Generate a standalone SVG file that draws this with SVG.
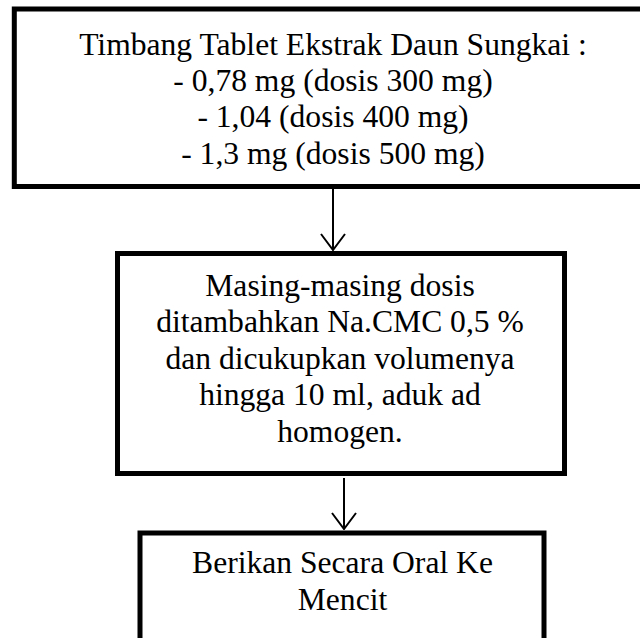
<svg xmlns="http://www.w3.org/2000/svg" width="640" height="638" viewBox="0 0 640 638">
  <style>
    .box { fill: #ffffff; stroke: #000000; stroke-width: 5; }
    .lbl { font-family: "Liberation Serif", "Times New Roman", serif; font-size: 31.6px; fill: #000000; text-anchor: middle; }
    .edge { fill: none; stroke: #000000; stroke-width: 2; }
  </style>
  <defs>
    <!-- open V arrowhead, drawn along +x so orient="auto" points it down the line -->
    <marker id="open-arrow" viewBox="0 0 18 26" refX="17" refY="13" markerWidth="18" markerHeight="26" markerUnits="userSpaceOnUse" orient="auto">
      <path d="M1,1 L17,13 L1,25" fill="none" stroke="#000000" stroke-width="2"/>
    </marker>
  </defs>
  <rect width="640" height="638" fill="#ffffff"/>

  <g id="step-weigh">
    <rect class="box" x="14.3" y="9" width="660" height="177.5"/>
    <text class="lbl" x="333" y="54.5">Timbang Tablet Ekstrak Daun Sungkai :</text>
    <text class="lbl" x="333" y="91">- 0,78 mg (dosis 300 mg)</text>
    <text class="lbl" x="333" y="127">- 1,04 (dosis 400 mg)</text>
    <text class="lbl" x="333" y="163.5">- 1,3 mg (dosis 500 mg)</text>
  </g>

  <g id="step-mix">
    <rect class="box" x="117.5" y="253.5" width="447" height="220"/>
    <text class="lbl" x="340" y="295.5">Masing-masing dosis</text>
    <text class="lbl" x="340" y="332">ditambahkan Na.CMC 0,5 %</text>
    <text class="lbl" x="340" y="368.5">dan dicukupkan volumenya</text>
    <text class="lbl" x="340" y="405">hingga 10 ml, aduk ad</text>
    <text class="lbl" x="340" y="441.5">homogen.</text>
  </g>

  <g id="step-oral">
    <rect class="box" x="140" y="533" width="404" height="140"/>
    <text class="lbl" x="342.5" y="573">Berikan Secara Oral Ke</text>
    <text class="lbl" x="342.5" y="610">Mencit</text>
  </g>

  <g id="connectors">
    <line class="edge" x1="333" y1="189" x2="333" y2="250" marker-end="url(#open-arrow)"/>
    <line class="edge" x1="344" y1="478" x2="344" y2="529" marker-end="url(#open-arrow)"/>
  </g>
</svg>
